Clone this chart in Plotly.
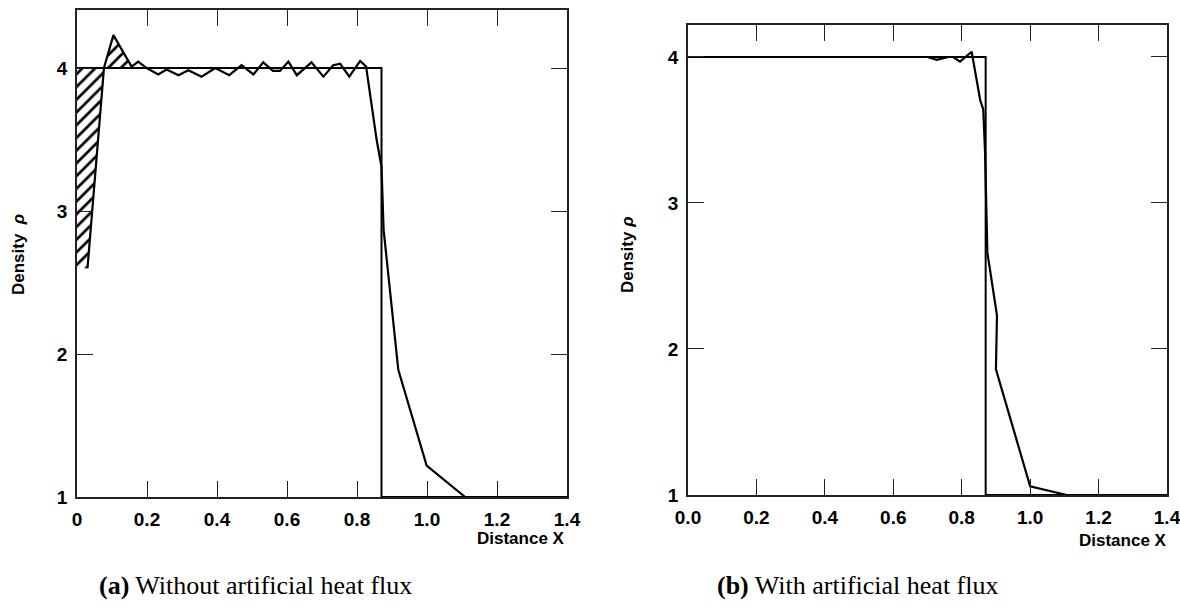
import plotly.graph_objects as go

# ---- data ----
x_ticks = [0, 0.2, 0.4, 0.6, 0.8, 1.0, 1.2, 1.4]
x_ticktext_a = ["0", "0.2", "0.4", "0.6", "0.8", "1.0", "1.2", "1.4"]
x_ticktext_b = ["0.0", "0.2", "0.4", "0.6", "0.8", "1.0", "1.2", "1.4"]
y_ticks = [1, 2, 3, 4]

# exact solution (both panels)
exact_x = [0.0, 0.87, 0.87, 1.4]
exact_y = [4.0, 4.0, 1.0, 1.0]

# panel (a): without artificial heat flux
num_a_x = [0.03, 0.077, 0.104, 0.156, 0.175, 0.199, 0.232, 0.256, 0.29, 0.318,
           0.356, 0.395, 0.435, 0.47, 0.504, 0.532, 0.56, 0.58, 0.604, 0.628,
           0.67, 0.704, 0.732, 0.752, 0.778, 0.809, 0.826, 0.856, 0.870, 0.876,
           0.918, 0.999, 1.109, 1.15]
num_a_y = [2.60, 4.00, 4.23, 4.01, 4.045, 4.00, 3.955, 3.99, 3.95, 3.985,
           3.94, 4.00, 3.95, 4.02, 3.955, 4.04, 3.98, 3.98, 4.045, 3.95,
           4.04, 3.94, 4.02, 4.03, 3.94, 4.05, 4.01, 3.50, 3.31, 2.87,
           1.89, 1.22, 1.00, 1.00]

# panel (b): with artificial heat flux
num_b_x = [0.0, 0.70, 0.727, 0.761, 0.775, 0.795, 0.829, 0.854, 0.863, 0.868,
           0.875, 0.903, 0.90, 1.0, 1.107, 1.13]
num_b_y = [4.0, 4.0, 3.98, 4.0, 4.0, 3.968, 4.036, 3.705, 3.64, 3.36,
           2.66, 2.23, 1.86, 1.06, 1.0, 1.0]

# ---- figure ----
fig = go.Figure()
LINE = dict(color="black", width=2.2)

# hatched error regions in (a)
hatch = dict(shape="/", fgcolor="black", fgopacity=1, bgcolor="white", size=9, solidity=0.3)
left_x = [0.0, num_a_x[1], num_a_x[0], 0.0]
left_y = [exact_y[0], num_a_y[1], num_a_y[0], num_a_y[0]]
fig.add_trace(go.Scatter(x=left_x, y=left_y, fill="toself", mode="none",
                         fillpattern=hatch, fillcolor="white",
                         xaxis="x", yaxis="y", showlegend=False, hoverinfo="skip"))
peak_x = num_a_x[1:4]
peak_y = num_a_y[1:3] + [exact_y[0]]
fig.add_trace(go.Scatter(x=peak_x, y=peak_y, fill="toself", mode="none",
                         fillpattern=hatch, fillcolor="white",
                         xaxis="x", yaxis="y", showlegend=False, hoverinfo="skip"))

for xa, ya, nx, ny in [("x", "y", num_a_x, num_a_y), ("x2", "y2", num_b_x, num_b_y)]:
    fig.add_trace(go.Scatter(x=exact_x, y=exact_y, mode="lines", line=dict(color="black", width=2),
                             xaxis=xa, yaxis=ya, showlegend=False))
    fig.add_trace(go.Scatter(x=nx, y=ny, mode="lines", line=LINE,
                             xaxis=xa, yaxis=ya, showlegend=False))

tickfont = dict(family="Liberation Sans, Arial, sans-serif", size=19, color="black", weight="bold")
axis_common = dict(showgrid=False, zeroline=False, showline=True, linecolor="#222", linewidth=1.5,
                   mirror="ticks", ticks="inside", ticklen=16, tickwidth=1.2, tickcolor="#222",
                   tickfont=tickfont, ticklabelstandoff=4, automargin=False,
                   ticklabeloverflow="allow")

fig.update_layout(
    width=1180, height=611,
    margin=dict(l=0, r=0, t=0, b=0, autoexpand=False),
    paper_bgcolor="white", plot_bgcolor="white",
    xaxis=dict(domain=[77/1180, 567/1180], range=[0, 1.4], tickvals=x_ticks,
               ticktext=x_ticktext_a, anchor="y", **axis_common),
    yaxis=dict(domain=[1-497/611, 1-10/611], range=[1.0, 4.406], tickvals=y_ticks,
               anchor="x", **axis_common),
    xaxis2=dict(domain=[688/1180, 1167/1180], range=[0, 1.4], tickvals=x_ticks,
                ticktext=x_ticktext_b, anchor="y2", **axis_common),
    yaxis2=dict(domain=[1-495/611, 1-25/611], range=[1.0, 4.219], tickvals=y_ticks,
                anchor="x2", **axis_common),
)

lab_font = dict(family="Liberation Sans, Arial, sans-serif", size=17, color="black", weight="bold")
cap_font = dict(family="Liberation Serif, DejaVu Serif, serif", size=26, color="black")
annots = [
    dict(text="Density  <i>ρ</i>", x=18, y=255, textangle=-90, font=lab_font),
    dict(text="Density <i>ρ</i>", x=627, y=255, textangle=-90, font=lab_font),
    dict(text="Distance X", x=567, y=538, xanchor="right", font=lab_font),
    dict(text="Distance X", x=1169, y=540, xanchor="right", font=lab_font),
    dict(text="<b>(a)</b> Without artificial heat flux", x=255, y=585, font=cap_font),
    dict(text="<b>(b)</b> With artificial heat flux", x=858, y=585, font=cap_font),
]
for a in annots:
    fig.add_annotation(text=a["text"], x=a["x"]/1180, y=1-a["y"]/611, xref="paper", yref="paper",
                       showarrow=False, textangle=a.get("textangle", 0),
                       xanchor=a.get("xanchor", "center"), yanchor="middle", font=a["font"])

fig.write_html("out.html")
